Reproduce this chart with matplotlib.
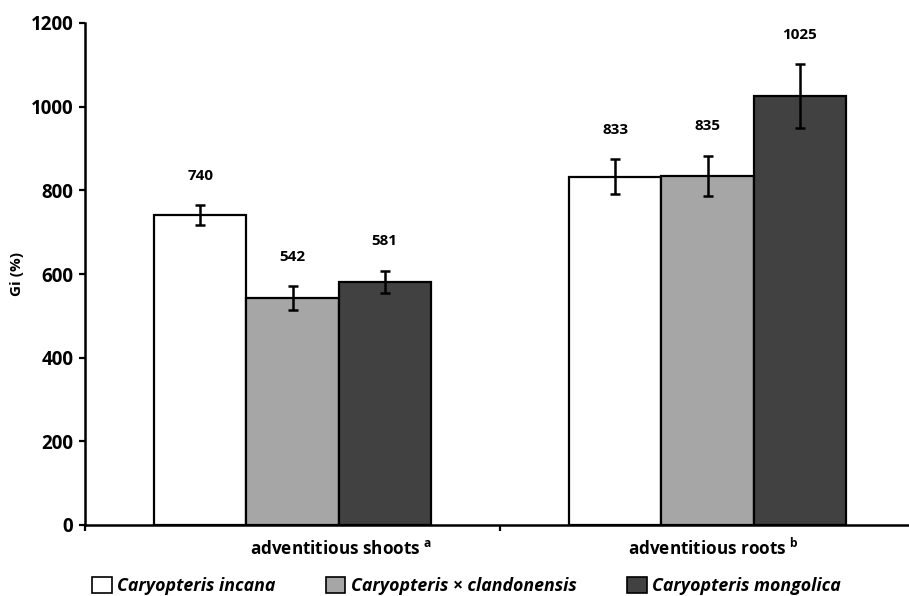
import numpy as np
import matplotlib.pyplot as plt
from matplotlib.patches import Patch

plt.rcParams['font.family'] = ['Open Sans', 'DejaVu Sans']
plt.rcParams['mathtext.fontset'] = 'custom'
plt.rcParams['mathtext.rm'] = 'Open Sans'
plt.rcParams['mathtext.bf'] = 'Open Sans:bold'

categories = ['adventitious shoots $^{\\mathbf{a}}$', 'adventitious roots $^{\\mathbf{b}}$']
species = ['Caryopteris incana', 'Caryopteris × clandonensis', 'Caryopteris mongolica']
values = [[740, 833], [542, 835], [581, 1025]]
errors = [[24, 42], [29, 48], [27, 76]]
colors = ['#ffffff', '#a6a6a6', '#414141']
yticks = [0, 200, 400, 600, 800, 1000, 1200]
label_shift = [35, 4]  # category labels sit off-centre in the original

fig = plt.figure(figsize=(9.09, 5.96), dpi=100)
ax = fig.add_axes([85/909, 1-525/596, 830/909, 502/596])

x = np.arange(len(categories))
w = 0.222
for i in range(3):
    xs = x + (i-1)*w
    ax.bar(xs, values[i], w, color=colors[i], edgecolor='black', linewidth=1.6, zorder=2)
    ax.errorbar(xs, values[i], yerr=errors[i], fmt='none', ecolor='black',
                elinewidth=1.8, capsize=3.5, capthick=1.8, zorder=3)
    for xx, v, e in zip(xs, values[i], errors[i]):
        ax.annotate(str(v), (xx, v+e), xytext=(0, 21), textcoords='offset points',
                    ha='center', va='center', fontsize=11, fontweight='bold')

ax.set_xlim(-0.5, 1.5)
ax.set_ylim(0, 1200)
ax.set_yticks(yticks)
ax.set_yticklabels([str(t) for t in yticks], fontsize=13.5, fontweight='bold')
ax.set_xticks([-0.5, 0.5, 1.5])
ax.set_xticklabels([])
for xx, lab, dx in zip(x, categories, label_shift):
    ax.annotate(lab, (xx, 0), xytext=(dx, -17), textcoords='offset points',
                ha='center', va='center', fontsize=12.3, fontweight='bold',
                annotation_clip=False)
ax.tick_params(axis='both', which='major', direction='out', length=4.5, width=1.6)
ax.tick_params(axis='y', pad=4)
for s in ['top', 'right']:
    ax.spines[s].set_visible(False)
for s in ['left', 'bottom']:
    ax.spines[s].set_linewidth(1.8)
ax.set_ylabel('Gi (%)', fontsize=11, fontweight='bold', labelpad=5)

handles = [Patch(facecolor=c, edgecolor='black', linewidth=1.2) for c in colors]
fig.legend(handles, species, loc='center left', bbox_to_anchor=(92/909, 1-586/596),
           ncol=3, frameon=False, handlelength=1.1, handleheight=1.0, handletextpad=0.3,
           columnspacing=2.85, borderpad=0, borderaxespad=0,
           prop={'style': 'italic', 'weight': 'bold', 'size': 12.8})

fig.savefig('out.png', dpi=100)
